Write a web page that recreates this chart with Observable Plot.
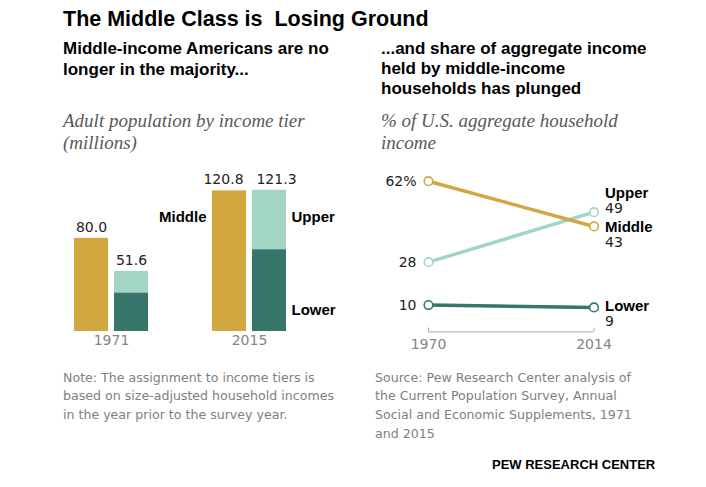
<!DOCTYPE html>
<html>
<head>
<meta charset="utf-8">
<script src="https://cdn.jsdelivr.net/npm/d3@7"></script>
<script src="https://cdn.jsdelivr.net/npm/@observablehq/plot@0.6"></script>
<style>
  html, body { margin: 0; padding: 0; background: #fff; }
  #page { position: relative; width: 706px; height: 487px; background: #fff; overflow: hidden; }
  .t { position: absolute; white-space: nowrap; }
  .title { left: 63px; top: 5.5px; font: bold 21.5px/26px "Liberation Sans", Arial, sans-serif; color: #000; }
  .sub { font: bold 17px/20.5px "Liberation Sans", Arial, sans-serif; color: #000; }
  .ital { font: italic 19px/22.5px "Liberation Serif", "Times New Roman", serif; color: #595959; }
  .note { font: 12.6px/18.7px "DejaVu Sans", sans-serif; color: #808080; }
  .pew { left: 492px; top: 457px; font: bold 13px/16px "Liberation Sans", Arial, sans-serif; color: #000; }
  .chart { position: absolute; }
</style>
</head>
<body>
<div id="page">
  <div class="t title">The Middle Class is&nbsp; Losing Ground</div>
  <div class="t sub" style="left:63px; top:39px;">Middle-income Americans are no<br>longer in the majority...</div>
  <div class="t sub" style="left:381px; top:39px; line-height:20px;">...and share of aggregate income<br>held by middle-income<br>households has plunged</div>
  <div class="t ital" style="left:63px; top:109.5px;">Adult population by income tier<br>(millions)</div>
  <div class="t ital" style="left:381px; top:109.5px;">% of U.S. aggregate household<br>income</div>
  <div id="left" class="chart" style="left:0px; top:150px;"></div>
  <div id="right" class="chart" style="left:360px; top:150px;"></div>
  <div class="t note" style="left:63px; top:368.6px;">Note: The assignment to income tiers is<br>based on size-adjusted household incomes<br>in the year prior to the survey year.</div>
  <div class="t note" style="left:375px; top:368.6px;">Source: Pew Research Center analysis of<br>the Current Population Survey, Annual<br>Social and Economic Supplements, 1971<br>and 2015</div>
  <div class="t pew">PEW RESEARCH CENTER</div>
</div>
<script>
// ---- Data: adult population by income tier (millions)
const barYears = ["1971", "2015"];
const barMiddle = [80.0, 120.8];
const barLower = [33.2, 70.3];
const barUpper = [18.4, 51.0];

// ---- Data: % of U.S. aggregate household income
const lineYears = [1970, 2014];
const shareUpper = [28, 49];
const shareMiddle = [62, 43];
const shareLower = [10, 9];

const tiers = ["Lower", "Middle", "Upper"];
const tierColors = ["#37766a", "#d1a83f", "#a3d5c7"];

// ---------- Left chart ----------
const barRows = [];
const totals = [];
barYears.forEach((yr, i) => {
  barRows.push({year: yr, group: "Middle", tier: "Middle", value: barMiddle[i]});
  barRows.push({year: yr, group: "Other", tier: "Lower", value: barLower[i]});
  barRows.push({year: yr, group: "Other", tier: "Upper", value: barUpper[i]});
  totals.push({year: yr, group: "Middle", total: barMiddle[i]});
  totals.push({year: yr, group: "Other", total: barLower[i] + barUpper[i]});
});
// small horizontal nudges so the close 2015 totals do not collide
const totalNudge = {"2015|Middle": -6, "2015|Other": 7};
const lastYear = barYears[barYears.length - 1];
const li = barYears.length - 1;
const upperMid = barLower[li] + barUpper[li] / 2;
const tierLabels = [
  {year: lastYear, group: "Middle", label: "Middle", y: upperMid, anchor: "end", dx: -23, dy: -3},
  {year: lastYear, group: "Other", label: "Upper", y: upperMid, anchor: "start", dx: 22, dy: -3},
  {year: lastYear, group: "Other", label: "Lower", y: 0, anchor: "start", dx: 22, dy: -21}
];

const left = Plot.plot({
  width: 360,
  height: 205,
  marginLeft: 72,
  marginRight: 72,
  marginTop: 18,
  marginBottom: 24,
  style: {fontFamily: "DejaVu Sans, sans-serif", fontSize: "14px", color: "#858585", background: "transparent", overflow: "visible"},
  fx: {domain: barYears, paddingInner: 0.446, paddingOuter: 0},
  x: {domain: ["Middle", "Other"], paddingInner: 0.14, paddingOuter: 0, axis: null},
  y: {domain: [0, 140], axis: null},
  color: {domain: tiers, range: tierColors},
  marks: [
    Plot.barY(barRows, {fx: "year", x: "group", y: "value", fill: "tier"}),
    ...totals.map(t => Plot.text([t], {fx: "year", x: "group", y: "total", text: d => d.total.toFixed(1), dy: -11, dx: totalNudge[t.year + "|" + t.group] || 0, fontSize: 14, fill: "#222"})),
    ...tierLabels.map(t => Plot.text([t], {fx: "year", x: "group", y: "y", text: "label", textAnchor: t.anchor, dx: t.dx, dy: t.dy, fontFamily: "Liberation Sans, Arial, sans-serif", fontWeight: "bold", fontSize: 15, fill: "#000"})),
    Plot.axisFx({anchor: "bottom", tickSize: 0, tickPadding: 4, label: null, fontSize: 14})
  ]
});
document.getElementById("left").appendChild(left);

// ---------- Right chart ----------
const lineRows = [];
lineYears.forEach((yr, i) => {
  lineRows.push({year: yr, tier: "Upper", value: shareUpper[i]});
  lineRows.push({year: yr, tier: "Middle", value: shareMiddle[i]});
  lineRows.push({year: yr, tier: "Lower", value: shareLower[i]});
});
const firstRows = lineRows.filter(d => d.year === lineYears[0]);
const lastRows = lineRows.filter(d => d.year === lineYears[lineYears.length - 1]);
const nameShift = {Upper: -19, Middle: 1, Lower: -1};

const right = Plot.plot({
  width: 346,
  height: 210,
  marginLeft: 68,
  marginRight: 112.5,
  marginTop: 30.7,
  marginBottom: 31.6,
  style: {fontFamily: "DejaVu Sans, sans-serif", fontSize: "14px", color: "#858585", background: "transparent", overflow: "visible"},
  x: {domain: lineYears, axis: null},
  y: {domain: [0, 62], axis: null},
  color: {domain: tiers, range: tierColors},
  marks: [
    Plot.ruleY([0], {x1: () => lineYears[0], x2: () => lineYears[1], dy: 3, stroke: "#a6a6a6", strokeWidth: 1}),
    Plot.ruleX(lineYears, {x: d => d, y1: 0, y2: 1.6, dy: 3, stroke: "#a6a6a6", strokeWidth: 1}),
    Plot.axisX({ticks: lineYears, tickSize: 0, tickPadding: 10, tickFormat: d => String(d), fontSize: 14, label: null}),
    Plot.line(lineRows, {x: "year", y: "value", z: "tier", stroke: "tier", strokeWidth: 3.5, strokeLinecap: "round"}),
    Plot.dot(lineRows, {x: "year", y: "value", stroke: "tier", fill: "white", r: 4.3, strokeWidth: 1.6}),
    Plot.text(firstRows, {x: "year", y: "value", text: d => d.tier === "Middle" ? d.value + "%" : String(d.value), textAnchor: "end", dx: -12, fontSize: 14, fill: "#222"}),
    ...tiers.map(t => Plot.text(lastRows.filter(d => d.tier === t), {x: "year", y: "value", text: "tier", textAnchor: "start", dx: 11, dy: nameShift[t], fontFamily: "Liberation Sans, Arial, sans-serif", fontWeight: "bold", fontSize: 15, fill: "#000"})),
    ...tiers.map(t => Plot.text(lastRows.filter(d => d.tier === t), {x: "year", y: "value", text: d => String(d.value), textAnchor: "start", dx: 11, dy: nameShift[t] + 15.5, fontSize: 14, fill: "#222"}))
  ]
});
document.getElementById("right").appendChild(right);
</script>
</body>
</html>
